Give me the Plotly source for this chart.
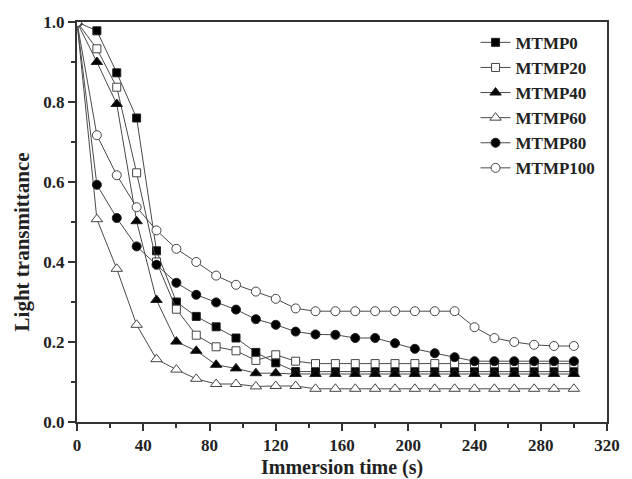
import plotly.graph_objects as go

times = [0, 12, 24, 36, 48, 60, 72, 84, 96, 108, 120, 132, 144, 156, 168, 180,
         192, 204, 216, 228, 240, 252, 264, 276, 288, 300]

mtmp0 = [1.0, 0.978, 0.873, 0.76, 0.428, 0.30, 0.264, 0.238, 0.21, 0.174, 0.148, 0.126,
         0.126, 0.126, 0.126, 0.126, 0.126, 0.126, 0.126, 0.126, 0.126, 0.126, 0.126,
         0.126, 0.126, 0.126]
mtmp20 = [1.0, 0.933, 0.837, 0.623, 0.40, 0.282, 0.217, 0.188, 0.178, 0.154, 0.168, 0.152,
          0.146, 0.146, 0.146, 0.146, 0.146, 0.146, 0.146, 0.146, 0.146, 0.146, 0.146,
          0.146, 0.146, 0.146]
mtmp40 = [1.0, 0.90, 0.795, 0.502, 0.305, 0.201, 0.178, 0.143, 0.134, 0.122, 0.122,
          0.12, 0.12, 0.12, 0.12, 0.12, 0.12, 0.12, 0.12, 0.12, 0.12, 0.12, 0.12,
          0.12, 0.12, 0.12]
mtmp60 = [1.0, 0.507, 0.383, 0.243, 0.157, 0.131, 0.108, 0.095, 0.095, 0.089, 0.09, 0.09,
          0.083, 0.083, 0.083, 0.083, 0.083, 0.083, 0.083, 0.083, 0.083, 0.083, 0.083,
          0.083, 0.083, 0.083]
mtmp80 = [1.0, 0.593, 0.51, 0.439, 0.393, 0.348, 0.318, 0.299, 0.281, 0.257, 0.243, 0.226,
          0.219, 0.218, 0.21, 0.21, 0.197, 0.183, 0.172, 0.162, 0.152, 0.152, 0.152,
          0.152, 0.152, 0.152]
mtmp100 = [1.0, 0.717, 0.617, 0.537, 0.479, 0.433, 0.40, 0.366, 0.343, 0.326, 0.308, 0.284,
           0.277, 0.277, 0.277, 0.277, 0.277, 0.277, 0.277, 0.277, 0.237, 0.21, 0.20,
           0.193, 0.19, 0.19]

names = ["MTMP0", "MTMP20", "MTMP40", "MTMP60", "MTMP80", "MTMP100"]
series = [mtmp0, mtmp20, mtmp40, mtmp60, mtmp80, mtmp100]
symbols = ["square", "square", "triangle-up", "triangle-up", "circle", "circle"]
fills = ["black", "white", "black", "white", "black", "white"]
sizes = [8, 8, 10, 10, 9, 9]

FONT = "Liberation Serif"

fig = go.Figure()
for n, ys, sym, fc, sz in zip(names, series, symbols, fills, sizes):
    fig.add_trace(go.Scatter(
        x=times, y=ys, name=n, mode="lines+markers",
        line=dict(color="#4a4a4a", width=1),
        marker=dict(symbol=sym, size=sz, color=fc,
                    line=dict(color="#222222" if fc == "black" else "#444444", width=1)),
    ))

axis_common = dict(
    showline=True, linecolor="#333333", linewidth=2, mirror=True,
    ticks="outside", tickcolor="#333333", tickwidth=1.5, ticklen=7,
    showgrid=False, zeroline=False,
    tickfont=dict(family=FONT, size=17, color="#222222", weight="bold"),
)

fig.update_xaxes(range=[0, 320], tick0=0, dtick=40,
                 minor=dict(ticks="outside", dtick=20, ticklen=4, tickcolor="#333333", tickwidth=1.5),
                 **axis_common)
fig.update_yaxes(range=[0, 1.0], tick0=0, dtick=0.2, tickformat=".1f",
                 minor=dict(ticks="outside", dtick=0.1, ticklen=4, tickcolor="#333333", tickwidth=1.5),
                 **axis_common)

fig.add_annotation(text="<b>Immersion time (s)</b>", xref="paper", yref="paper",
                   x=0.5, y=-0.1125, xanchor="center", yanchor="middle", showarrow=False,
                   font=dict(family=FONT, size=20, color="#222222"))
fig.add_annotation(text="<b>Light transmittance</b>", xref="paper", yref="paper",
                   x=-0.103, y=0.45, xanchor="center", yanchor="middle", showarrow=False,
                   textangle=-90, font=dict(family=FONT, size=21, color="#222222"))

fig.update_layout(
    width=632, height=479,
    margin=dict(l=77, r=12, t=22, b=57),
    paper_bgcolor="white", plot_bgcolor="white",
    font=dict(family=FONT, color="#222222"),
    legend=dict(x=0.752, y=0.993, xanchor="left", yanchor="top",
                bgcolor="rgba(0,0,0,0)", borderwidth=0,
                font=dict(family=FONT, size=17, color="#222222", weight="bold")),
)

fig.write_html("out.html")
